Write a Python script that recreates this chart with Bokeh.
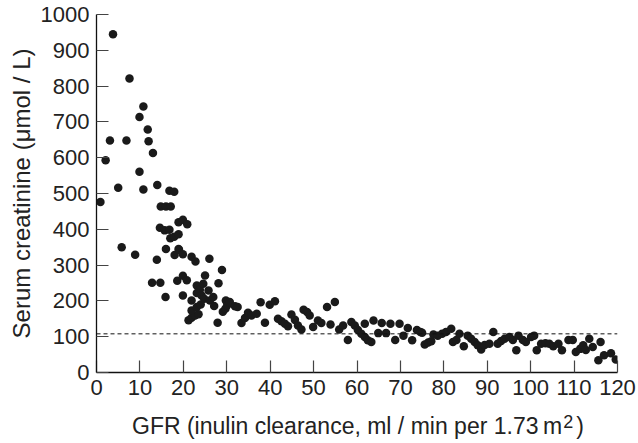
from bokeh.plotting import figure
from bokeh.models import Range1d, Span, ColumnDataSource, Div
from bokeh.layouts import column
from bokeh.embed import file_html
from bokeh.resources import INLINE

# GFR (inulin clearance, ml/min per 1.73 m2)
gfr = [0.9, 2.1, 3.1, 3.8, 5.0, 5.8, 6.9, 7.6, 8.9, 9.9, 9.9, 10.8, 10.8, 11.8, 12.0, 13.0, 14.0, 16.8, 17.9,
       14.8, 16.0, 17.1, 18.9, 19.9, 20.9, 14.6, 15.7, 16.8, 17.0, 17.9, 18.9, 16.0, 18.9, 13.9,
       12.8, 14.7, 15.9, 18.0, 19.0, 19.9, 18.6, 19.9, 20.8, 19.9, 21.9, 22.8, 21.9,
       21.2, 21.9, 22.7, 23.5, 23.1, 23.8, 24.6, 23.1, 24.2, 24.8, 25.8, 26.1, 26.9,
       25.0, 26.0, 28.1, 28.9, 21.9, 23.1, 24.0, 27.1, 27.9, 29.1, 29.7, 29.8, 30.1, 30.7, 31.9, 32.5,
       33.4, 34.2, 34.9, 35.7, 36.9, 37.8, 38.8, 39.9, 41.1, 41.8, 42.6, 43.4, 44.1,
       44.9, 45.7, 46.4, 47.2, 47.7, 48.5, 49.1, 49.9, 51.0, 51.8, 53.1, 54.9, 53.9, 55.9, 56.8,
       57.9, 58.7, 59.5, 60.2, 61.0, 61.8, 61.8, 62.5, 63.3, 63.8, 64.9, 65.7, 66.7, 67.7, 68.8,
       69.8, 70.7, 71.7, 72.7, 73.8, 74.6, 75.0, 75.6, 76.4, 77.1, 77.6, 78.6, 79.6, 80.5, 81.7,
       82.1, 82.9, 83.6, 84.6, 85.5, 86.3, 87.1, 87.8, 88.6, 89.4, 90.5, 91.4, 92.4, 93.2, 94.0,
       95.1, 95.9, 96.7, 97.2, 98.2, 98.9, 100.1, 100.8, 101.4, 102.4, 103.4, 104.3, 105.2, 106.4,
       107.2, 108.7, 109.7, 110.4, 111.4, 112.1, 112.7, 113.5, 114.3, 116.1, 115.6, 116.9, 118.5, 119.6]

# Serum creatinine (umol/L)
creatinine = [476, 593, 648, 945, 516, 350, 648, 821, 329, 714, 561, 743, 511, 679, 646, 613, 524, 508, 505,
              464, 464, 464, 420, 427, 414, 404, 397, 399, 375, 379, 386, 345, 345, 315,
              251, 251, 211, 328, 343, 330, 256, 270, 258, 215, 323, 310, 201,
              146, 153, 159, 163, 243, 231, 248, 222, 215, 206, 229, 201, 211,
              271, 318, 249, 286, 173, 183, 190, 186, 139, 170, 178, 201, 188, 197, 185, 183,
              138, 152, 167, 159, 164, 196, 139, 189, 199, 150, 143, 136, 129,
              162, 147, 131, 120, 175, 169, 159, 127, 145, 138, 183, 197, 134, 120, 131,
              91, 141, 131, 119, 108, 99, 136, 90, 85, 145, 110, 138, 110, 136, 91,
              136, 103, 124, 90, 119, 113, 111, 78, 84, 87, 106, 103, 108, 113, 122,
              85, 91, 108, 73, 103, 94, 85, 76, 64, 77, 80, 113, 80, 88, 94,
              99, 91, 62, 103, 91, 85, 99, 103, 62, 80, 82, 80, 73, 80,
              62, 91, 91, 57, 66, 76, 63, 94, 71, 85, 34, 48, 54, 36]

x_ticks = [0, 10, 20, 30, 40, 50, 60, 70, 80, 90, 100, 110, 120]
y_ticks = [0, 100, 200, 300, 400, 500, 600, 700, 800, 900, 1000]
normal_limit = 108

x_title = "GFR (inulin clearance, ml / min per 1.73&thinsp;m"
x_title_sup = "2"
x_title_end = ")"
y_title = "Serum creatinine (μmol / L)"

FONT = "Liberation Sans"
INK = "#222222"

p = figure(width=638, height=412, output_backend="svg", toolbar_location=None,
           x_range=Range1d(0, 120), y_range=Range1d(0, 1000),
           min_border_left=96, min_border_right=21, min_border_top=14, min_border_bottom=40)
p.outline_line_color = None
p.grid.visible = False
p.background_fill_color = "white"
p.border_fill_color = "white"

src = ColumnDataSource(dict(x=gfr, y=creatinine))
p.scatter("x", "y", source=src, size=8.5, fill_color="#1a1a1a", line_color=None)

p.add_layout(Span(location=normal_limit, dimension="width", line_color="#111111",
                  line_width=1, line_dash="4 3"))

for ax in (p.xaxis[0], p.yaxis[0]):
    ax.axis_line_color = "#111111"
    ax.axis_line_width = 1.3
    ax.major_tick_in = 12
    ax.major_tick_out = 0
    ax.major_tick_line_color = "#444444"
    ax.major_tick_line_width = 1.2
    ax.minor_tick_line_color = None
    ax.major_label_text_font = FONT
    ax.major_label_text_font_size = "22px"
    ax.major_label_text_color = INK
    ax.axis_label_text_font = FONT
    ax.axis_label_text_font_size = "24px"
    ax.axis_label_text_font_style = "normal"
    ax.axis_label_text_color = INK

p.xaxis.ticker = x_ticks
p.yaxis.ticker = y_ticks
p.xaxis.major_label_standoff = 7
p.yaxis.major_label_standoff = 7
p.yaxis.axis_label = y_title
p.yaxis.axis_label_standoff = 3

# x-axis title (HTML text so that the "2" can be a true superscript)
title_html = (
    f'<div style="margin:0;padding:1px 0 0 132px;font-family:\'{FONT}\';font-size:23px;'
    f'line-height:27px;color:{INK};white-space:nowrap;">'
    f'{x_title}<span style="font-size:18px;position:relative;top:-6.5px;'
    f'margin-left:1px;margin-right:3px;">{x_title_sup}</span>{x_title_end}</div>'
)
xtitle = Div(text=title_html, width=638, height=31, margin=(0, 0, 0, 0))

layout = column(p, xtitle, spacing=0)

open("out.html", "w").write(file_html(layout, INLINE))
